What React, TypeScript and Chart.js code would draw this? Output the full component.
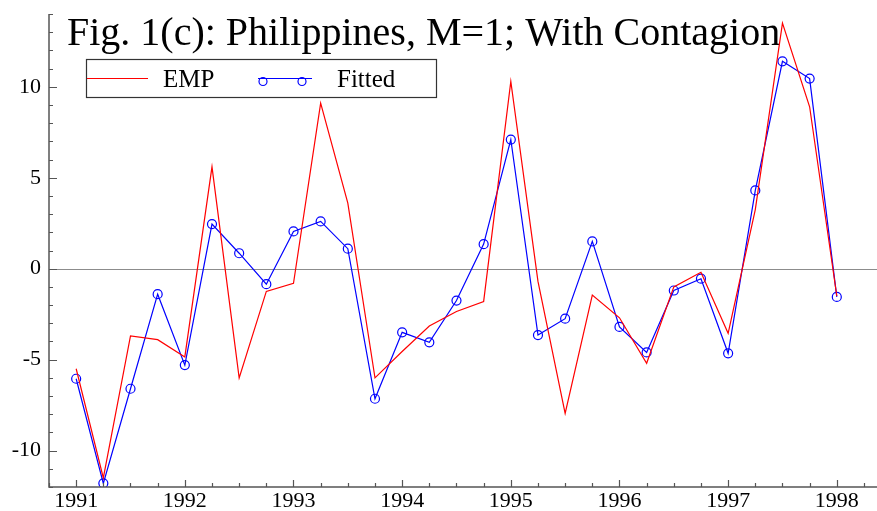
import React, { useEffect, useRef } from "react";
import { Chart, registerables } from "chart.js";

Chart.register(...registerables);

const quarters = [
  1991, 1991.25, 1991.5, 1991.75,
  1992, 1992.25, 1992.5, 1992.75,
  1993, 1993.25, 1993.5, 1993.75,
  1994, 1994.25, 1994.5, 1994.75,
  1995, 1995.25, 1995.5, 1995.75,
  1996, 1996.25, 1996.5, 1996.75,
  1997, 1997.25, 1997.5, 1997.75,
  1998,
];

const empValues = [
  -5.5, -11.5, -3.7, -3.9,
  -4.85, 5.6, -6.0, -1.25,
  -0.8, 9.1, 3.6, -6.0,
  -4.55, -3.15, -2.35, -1.8,
  10.3, -0.7, -7.95, -1.45,
  -2.7, -5.2, -1.0, -0.2,
  -3.55, 3.25, 13.5, 8.9,
  -1.5,
];

const fittedValues = [
  -6.05, -11.8, -6.6, -1.4,
  -5.3, 2.45, 0.85, -0.85,
  2.05, 2.6, 1.1, -7.15,
  -3.5, -4.05, -1.75, 1.35,
  7.1, -3.65, -2.75, 1.5,
  -3.2, -4.6, -1.2, -0.55,
  -4.65, 4.3, 11.4, 10.45,
  -1.55,
];

const yearTicks = [1991, 1992, 1993, 1994, 1995, 1996, 1997, 1998];
const yTickLabels = [-10, -5, 0, 5, 10];
const titleText = "Fig. 1(c): Philippines, M=1; With Contagion";
const seriesNames = ["EMP", "Fitted"];

const FONT = "'Liberation Serif', 'Times New Roman', Times, serif";
const RED = "#ff0000";
const BLUE = "#0000ff";

Chart.defaults.font.family = FONT;

const decorPlugin = {
  id: "decor",
  beforeDatasetsDraw(chart: any) {
    const { ctx, chartArea, scales } = chart;
    const y = scales.y;
    const y0 = Math.round(y.getPixelForValue(0)) + 0.5;
    ctx.save();
    ctx.strokeStyle = "#8c8c8c";
    ctx.lineWidth = 1;
    ctx.beginPath();
    ctx.moveTo(chartArea.left, y0);
    ctx.lineTo(chartArea.right, y0);
    ctx.stroke();

    // title
    ctx.fillStyle = "#000";
    ctx.font = `40px ${FONT}`;
    ctx.textAlign = "left";
    ctx.textBaseline = "alphabetic";
    ctx.fillText(titleText, 67, 45);
    ctx.restore();
  },
  afterDatasetsDraw(chart: any) {
    const { ctx, chartArea, scales } = chart;
    const x = scales.x;
    const y = scales.y;
    ctx.save();
    ctx.strokeStyle = "#555";
    ctx.lineWidth = 1.5;
    // axes
    ctx.beginPath();
    ctx.moveTo(chartArea.left, chartArea.top);
    ctx.lineTo(chartArea.left, chartArea.bottom);
    ctx.lineTo(chartArea.right, chartArea.bottom);
    ctx.stroke();
    // y ticks (inward)
    ctx.lineWidth = 1.2;
    ctx.beginPath();
    for (let v = Math.ceil(y.min); v <= y.max; v += 1) {
      const py = Math.round(y.getPixelForValue(v)) + 0.5;
      const len = v % 5 === 0 ? 8 : 4;
      ctx.moveTo(chartArea.left, py);
      ctx.lineTo(chartArea.left + len, py);
    }
    // x ticks (inward)
    for (let q = Math.ceil(x.min * 4); q / 4 <= x.max; q += 1) {
      const v = q / 4;
      const px = Math.round(x.getPixelForValue(v)) + 0.5;
      const len = q % 4 === 0 ? 7 : 4;
      ctx.moveTo(px, chartArea.bottom);
      ctx.lineTo(px, chartArea.bottom - len);
    }
    ctx.stroke();

    // legend
    const bx = 86, by = 59, bw = 350, bh = 38;
    ctx.fillStyle = "#fff";
    ctx.fillRect(bx, by, bw, bh);
    ctx.strokeStyle = "#333";
    ctx.lineWidth = 1.2;
    ctx.strokeRect(bx + 0.5, by + 0.5, bw, bh);
    const ly = 78.5;
    ctx.strokeStyle = RED;
    ctx.lineWidth = 1.2;
    ctx.beginPath();
    ctx.moveTo(bx + 1, ly);
    ctx.lineTo(148, ly);
    ctx.stroke();
    ctx.strokeStyle = BLUE;
    ctx.beginPath();
    ctx.moveTo(258, ly);
    ctx.lineTo(312, ly);
    ctx.stroke();
    for (const cx of [263, 302]) {
      ctx.beginPath();
      ctx.arc(cx, ly + 3, 4, 0, Math.PI * 2);
      ctx.stroke();
    }
    ctx.fillStyle = "#000";
    ctx.font = `25px ${FONT}`;
    ctx.textBaseline = "alphabetic";
    ctx.textAlign = "left";
    ctx.fillText(seriesNames[0], 163, 87);
    ctx.fillText(seriesNames[1], 337, 87);
    ctx.restore();
  },
};

export default function App() {
  const canvasRef = useRef<HTMLCanvasElement | null>(null);

  useEffect(() => {
    document.body.style.margin = "0";
    const canvas = canvasRef.current;
    if (!canvas) return;
    const chart = new Chart(canvas, {
      type: "line",
      data: {
        datasets: [
          {
            label: seriesNames[0],
            data: quarters.map((q, i) => ({ x: q, y: empValues[i] })),
            borderColor: RED,
            borderWidth: 1.2,
            pointRadius: 0,
            tension: 0,
            fill: false,
          },
          {
            label: seriesNames[1],
            data: quarters.map((q, i) => ({ x: q, y: fittedValues[i] })),
            borderColor: BLUE,
            borderWidth: 1.2,
            pointRadius: 4.5,
            pointStyle: "circle",
            pointBackgroundColor: "rgba(0,0,0,0)",
            pointBorderColor: BLUE,
            pointBorderWidth: 1.2,
            tension: 0,
            fill: false,
          },
        ],
      },
      options: {
        responsive: false,
        animation: false,
        devicePixelRatio: 1,
        layout: { autoPadding: false, padding: { top: 14, right: 0, left: 0, bottom: 0 } },
        plugins: {
          legend: { display: false },
          title: { display: false },
          tooltip: { enabled: false },
        },
        scales: {
          x: {
            type: "linear",
            min: 1990.75,
            max: 1998.37,
            grid: { display: false, drawTicks: false },
            border: { display: false },
            afterBuildTicks: (s: any) => {
              s.ticks = yearTicks.map((v) => ({ value: v }));
            },
            afterFit: (s: any) => {
              s.height = 24;
              s.paddingLeft = 0;
              s.paddingRight = 0;
            },
            ticks: {
              font: { family: FONT, size: 22 },
              color: "#000",
              padding: 1,
              maxRotation: 0,
              autoSkip: false,
              callback: (v: any) => String(v),
            },
          },
          y: {
            type: "linear",
            min: -12,
            max: 14,
            grid: { display: false, drawTicks: false },
            border: { display: false },
            afterBuildTicks: (s: any) => {
              s.ticks = yTickLabels.map((v) => ({ value: v }));
            },
            afterFit: (s: any) => {
              s.width = 49;
              s.paddingTop = 0;
              s.paddingBottom = 0;
            },
            ticks: {
              font: { family: FONT, size: 22 },
              color: "#000",
              padding: 8,
              autoSkip: false,
              callback: (v: any) => String(v),
            },
          },
        },
      },
      plugins: [decorPlugin],
    } as any);
    return () => chart.destroy();
  }, []);

  return (
    <div style={{ position: "fixed", left: 0, top: 0, width: 877, height: 511, background: "#fff" }}>
      <canvas ref={canvasRef} width={877} height={511} />
    </div>
  );
}
